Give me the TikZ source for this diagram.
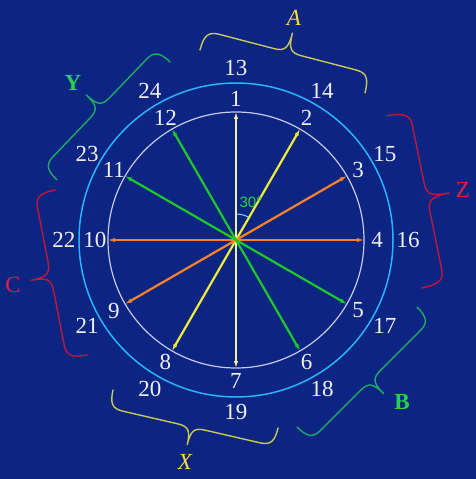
\documentclass[tikz,border=0pt]{standalone}
\usepackage{fontspec}
\setmainfont{Liberation Serif}
\newfontfamily\anglefont{Liberation Sans}
\usetikzlibrary{arrows.meta}
\definecolor{bgblue}{RGB}{12,36,130}
\definecolor{outerring}{RGB}{40,180,250}
\definecolor{innerring}{RGB}{200,200,240}
\definecolor{paleyellow}{RGB}{240,240,170}
\definecolor{rayyellow}{RGB}{240,235,60}
\definecolor{rayorange}{RGB}{255,130,40}
\definecolor{raygreen}{RGB}{30,200,40}
\definecolor{braceyellow}{RGB}{200,200,90}
\definecolor{labelyellow}{RGB}{255,220,50}
\definecolor{bracegreen}{RGB}{30,170,100}
\definecolor{labelgreen}{RGB}{40,210,70}
\definecolor{bracered}{RGB}{190,25,60}
\definecolor{labelred}{RGB}{230,30,70}
\definecolor{numwhite}{RGB}{240,240,245}
\tikzset{
  num/.style={text=numwhite, font=\fontsize{23}{26}\selectfont, inner sep=0pt},
  ray/.style={line width=2.2pt, -{Latex[length=7pt,width=4.5pt]}},
  grp/.style={line width=1.4pt, line cap=round},
  grplabel/.style={font=\fontsize{23}{26}\selectfont, inner sep=0pt},
}
% brace: colour, start, angle, length, height
\newcommand\grpbrace[5]{%
  \begin{scope}[shift={(#2)}, rotate=#3]
    \draw[grp, #1] (0,0) .. controls (0,{0.35*#5}) and (3,{0.5*#5}) .. (14,{0.5*#5})
      -- ({#4/2-14},{0.5*#5}) .. controls ({#4/2-3},{0.5*#5}) and ({#4/2},{0.6*#5}) .. ({#4/2},#5)
      .. controls ({#4/2},{0.6*#5}) and ({#4/2+3},{0.5*#5}) .. ({#4/2+14},{0.5*#5})
      -- ({#4-14},{0.5*#5}) .. controls ({#4-3},{0.5*#5}) and (#4,{0.35*#5}) .. (#4,0);
  \end{scope}}
\begin{document}
\begin{tikzpicture}[x=1pt, y=1pt]
% background
\fill[bgblue] (-236,-239) rectangle (240,240);
\useasboundingbox (-236,-239) rectangle (240,240);
% circles
\coordinate (O) at (0,0);
\draw[outerring, line width=1.5pt] (O) circle (157);
\draw[innerring, line width=1.2pt] (O) circle (128);
% rays
\foreach \k in {1,...,12} \coordinate (p\k) at ({90-30*(\k-1)}:128);
\foreach \a/\b/\c in {1/7/paleyellow, 2/8/rayyellow, 3/9/rayorange, 4/10/rayorange, 5/11/raygreen, 6/12/raygreen} {
  \draw[ray, \c] (O) -- (p\a);
  \draw[ray, \c] (O) -- (p\b);
}
% angle
\draw[innerring!70!cyan, line width=1pt] (88:26) arc (88:62:26);
\node[text=labelgreen, font=\anglefont\fontsize{15}{17}\selectfont, inner sep=0pt] (ang) at (15,38) {30°};
% numbers
\foreach \k in {1,...,12} \node[num] (n\k) at ({90-30*(\k-1)}:141) {\k};
\foreach \k in {13,...,24} \node[num] (n\k) at ({90-30*(\k-13)}:172) {\k};
% groups
\coordinate (a1) at (-36,190);
\coordinate (z1) at (151,124);
\coordinate (b1) at (181,-67);
\coordinate (x1) at (42,-188);
\coordinate (c1) at (-149,-115);
\coordinate (y1) at (-179,60);
\grpbrace{braceyellow}{a1}{-14.6}{170.5}{40}
\grpbrace{bracered}{z1}{-78.5}{175.5}{46}
\grpbrace{bracegreen}{b1}{-135}{169.7}{38}
\grpbrace{braceyellow}{x1}{167}{169.3}{37}
\grpbrace{bracered}{c1}{101}{168}{41}
\grpbrace{bracegreen}{y1}{46.2}{163.4}{38}
\node[grplabel, text=labelyellow] (la) at (58,222) {\itshape A};
\node[grplabel, text=labelred] (lz) at (227,50) {Z};
\node[grplabel, text=labelgreen] (lb) at (166,-162) {\bfseries B};
\node[grplabel, text=labelyellow] (lx) at (-51,-222) {\itshape X};
\node[grplabel, text=labelred] (lc) at (-223,-45) {C};
\node[grplabel, text=labelgreen] (ly) at (-163,157) {\bfseries Y};
\end{tikzpicture}
\end{document}
